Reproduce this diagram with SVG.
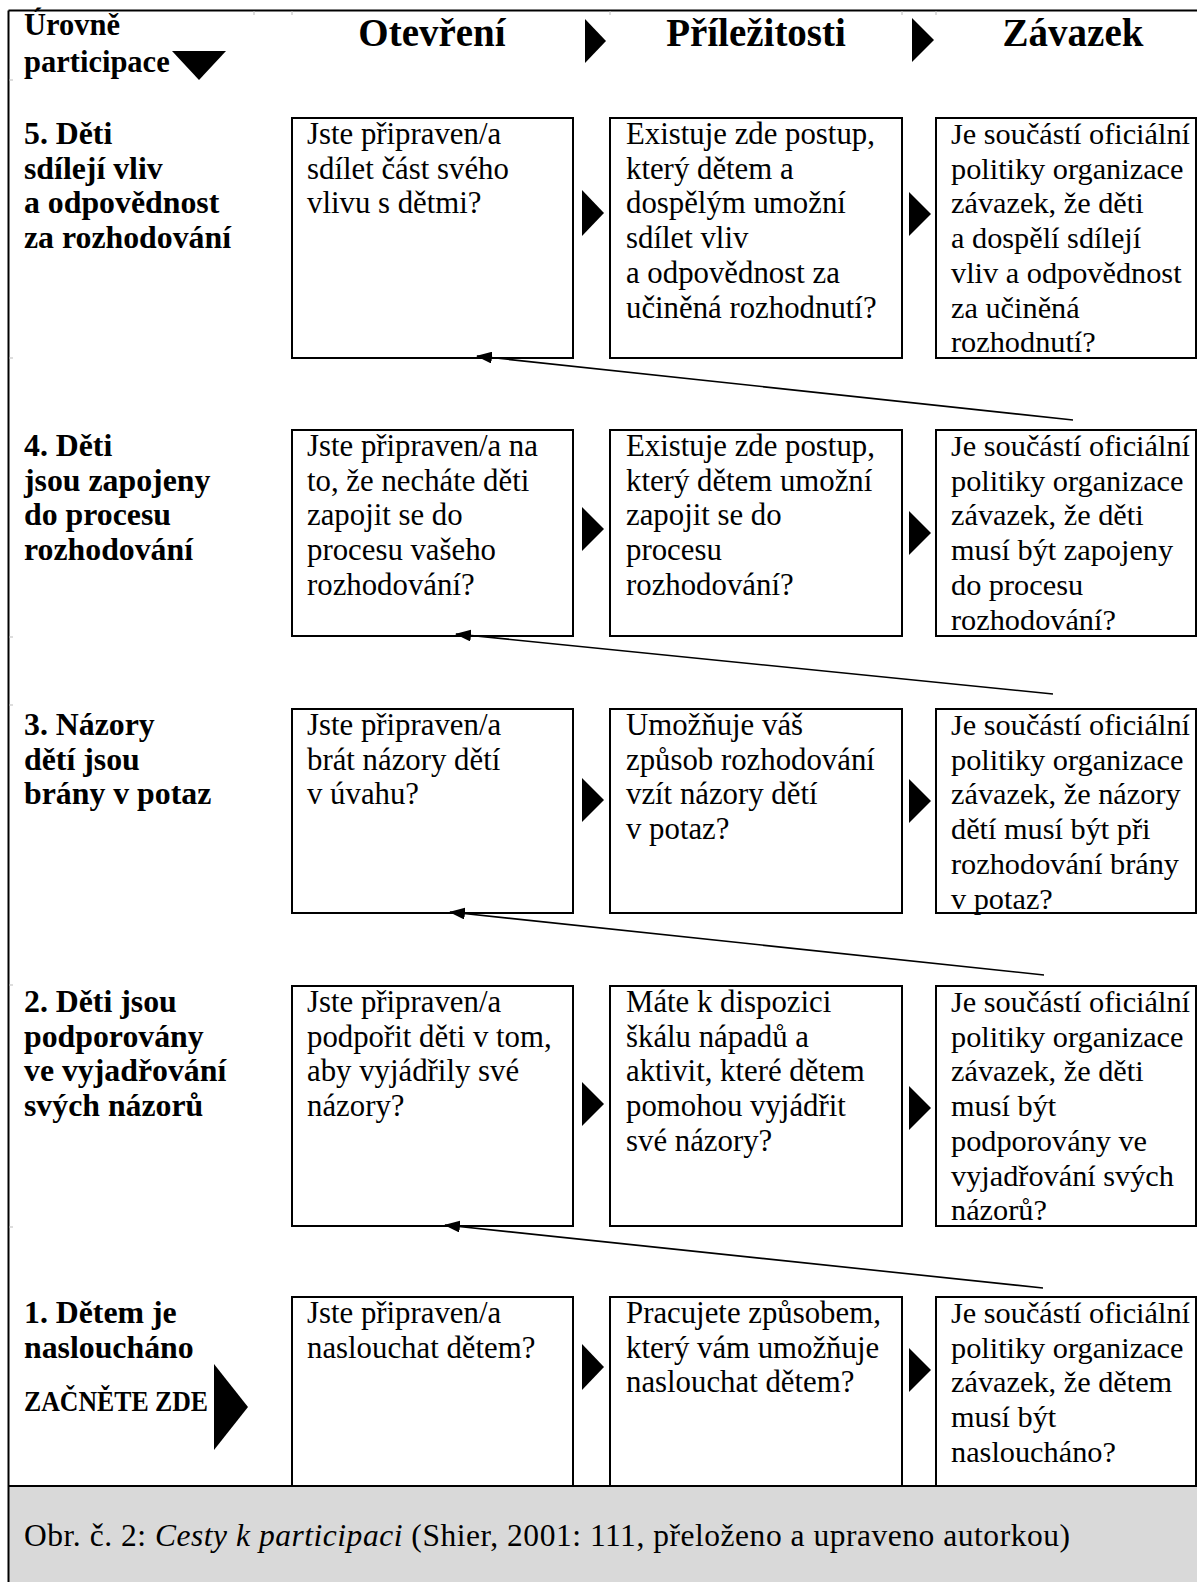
<svg xmlns="http://www.w3.org/2000/svg" width="1197" height="1582" viewBox="0 0 1197 1582">
<style>
.bx{fill:#fff;stroke:#000;stroke-width:2}
.t{font-family:"Liberation Serif","Times New Roman",serif;font-size:30.8px;fill:#000}
.c3{font-size:30.3px}
.lb{font-family:"Liberation Serif","Times New Roman",serif;font-size:31.8px;font-weight:bold;fill:#000}
.hl{font-family:"Liberation Serif","Times New Roman",serif;font-size:30.5px;font-weight:bold;fill:#000}
.h{font-family:"Liberation Serif","Times New Roman",serif;font-size:39px;font-weight:bold;fill:#000;text-anchor:middle}
.tri{fill:#000}
.tick{stroke:#bbb;stroke-width:1}
.con{stroke:#000;stroke-width:1.6;fill:none}
</style>
<defs>
<marker id="ah" markerUnits="userSpaceOnUse" markerWidth="16" markerHeight="12" refX="15" refY="6" orient="auto">
<path d="M0,0 L16,6 L0,12 Z" fill="#000"/>
</marker>
</defs>
<rect width="1197" height="1582" fill="#fff"/>
<g id="frame">
<rect x="8.5" y="1486" width="1189" height="96" fill="#d9d9d9"/>
<line x1="8.5" y1="10.5" x2="1197" y2="10.5" stroke="#000" stroke-width="2"/>
<line x1="8.5" y1="10.5" x2="8.5" y2="1582" stroke="#000" stroke-width="2"/>
<line class="tick" x1="254" y1="11" x2="254" y2="15"/>
<line class="tick" x1="292" y1="11" x2="292" y2="15"/>
<line class="tick" x1="610" y1="11" x2="610" y2="15"/>
<line class="tick" x1="902" y1="11" x2="902" y2="15"/>
<line class="tick" x1="936" y1="11" x2="936" y2="15"/>
<line class="tick" x1="9" y1="80" x2="13" y2="80"/>
<line class="tick" x1="9" y1="358" x2="13" y2="358"/>
<line class="tick" x1="9" y1="637" x2="13" y2="637"/>
<line class="tick" x1="9" y1="705" x2="13" y2="705"/>
<line class="tick" x1="9" y1="985" x2="13" y2="985"/>
<line class="tick" x1="9" y1="1227" x2="13" y2="1227"/>
</g>
<g id="header">
<text class="hl" x="24" y="35">Úrovně</text>
<text class="hl" x="24" y="72">participace</text>
<path class="tri" d="M172,51 L226,51 L199,80 Z"/>
<text class="h" x="432" y="46">Otevření</text>
<path class="tri" d="M585,19 L606,41 L585,63 Z"/>
<text class="h" x="756" y="46">Příležitosti</text>
<path class="tri" d="M912,18 L934,40 L912,62 Z"/>
<text class="h" x="1073" y="46">Závazek</text>
</g>

<g id="level5">
<text class="lb" x="24" y="144"><tspan x="24">5. Děti</tspan><tspan x="24" dy="34.7">sdílejí vliv</tspan><tspan x="24" dy="34.7">a odpovědnost</tspan><tspan x="24" dy="34.7">za rozhodování</tspan></text>
</g>
<g id="r5c1"><rect class="bx" x="292" y="118" width="281" height="240"/>
<text class="t" x="307" y="144"><tspan x="307">Jste připraven/a</tspan><tspan x="307" dy="34.7">sdílet část svého</tspan><tspan x="307" dy="34.7">vlivu s dětmi?</tspan></text></g>
<path class="tri" d="M582,190 L604,213 L582,236 Z"/>
<g id="r5c2"><rect class="bx" x="610" y="118" width="292" height="240"/>
<text class="t" x="626" y="144"><tspan x="626">Existuje zde postup,</tspan><tspan x="626" dy="34.7">který dětem a</tspan><tspan x="626" dy="34.7">dospělým umožní</tspan><tspan x="626" dy="34.7">sdílet vliv</tspan><tspan x="626" dy="34.7">a odpovědnost za</tspan><tspan x="626" dy="34.7">učiněná rozhodnutí?</tspan></text></g>
<path class="tri" d="M909,192 L931,214 L909,236 Z"/>
<g id="r5c3"><rect class="bx" x="936" y="118" width="260" height="240"/>
<text class="t c3" x="951" y="144"><tspan x="951">Je součástí oficiální</tspan><tspan x="951" dy="34.7">politiky organizace</tspan><tspan x="951" dy="34.7">závazek, že děti</tspan><tspan x="951" dy="34.7">a dospělí sdílejí</tspan><tspan x="951" dy="34.7">vliv a odpovědnost</tspan><tspan x="951" dy="34.7">za učiněná</tspan><tspan x="951" dy="34.7">rozhodnutí?</tspan></text></g>

<g id="level4">
<text class="lb" x="24" y="456"><tspan x="24">4. Děti</tspan><tspan x="24" dy="34.7">jsou zapojeny</tspan><tspan x="24" dy="34.7">do procesu</tspan><tspan x="24" dy="34.7">rozhodování</tspan></text>
</g>
<g id="r4c1"><rect class="bx" x="292" y="430" width="281" height="206"/>
<text class="t" x="307" y="456"><tspan x="307">Jste připraven/a na</tspan><tspan x="307" dy="34.7">to, že necháte děti</tspan><tspan x="307" dy="34.7">zapojit se do</tspan><tspan x="307" dy="34.7">procesu vašeho</tspan><tspan x="307" dy="34.7">rozhodování?</tspan></text></g>
<path class="tri" d="M582,507 L604,529 L582,551 Z"/>
<g id="r4c2"><rect class="bx" x="610" y="430" width="292" height="206"/>
<text class="t" x="626" y="456"><tspan x="626">Existuje zde postup,</tspan><tspan x="626" dy="34.7">který dětem umožní</tspan><tspan x="626" dy="34.7">zapojit se do</tspan><tspan x="626" dy="34.7">procesu</tspan><tspan x="626" dy="34.7">rozhodování?</tspan></text></g>
<path class="tri" d="M909,511 L931,533 L909,555 Z"/>
<g id="r4c3"><rect class="bx" x="936" y="430" width="260" height="206"/>
<text class="t c3" x="951" y="456"><tspan x="951">Je součástí oficiální</tspan><tspan x="951" dy="34.7">politiky organizace</tspan><tspan x="951" dy="34.7">závazek, že děti</tspan><tspan x="951" dy="34.7">musí být zapojeny</tspan><tspan x="951" dy="34.7">do procesu</tspan><tspan x="951" dy="34.7">rozhodování?</tspan></text></g>

<g id="level3">
<text class="lb" x="24" y="735"><tspan x="24">3. Názory</tspan><tspan x="24" dy="34.7">dětí jsou</tspan><tspan x="24" dy="34.7">brány v potaz</tspan></text>
</g>
<g id="r3c1"><rect class="bx" x="292" y="709" width="281" height="204"/>
<text class="t" x="307" y="735"><tspan x="307">Jste připraven/a</tspan><tspan x="307" dy="34.7">brát názory dětí</tspan><tspan x="307" dy="34.7">v úvahu?</tspan></text></g>
<path class="tri" d="M582,778 L604,800 L582,822 Z"/>
<g id="r3c2"><rect class="bx" x="610" y="709" width="292" height="204"/>
<text class="t" x="626" y="735"><tspan x="626">Umožňuje váš</tspan><tspan x="626" dy="34.7">způsob rozhodování</tspan><tspan x="626" dy="34.7">vzít názory dětí</tspan><tspan x="626" dy="34.7">v potaz?</tspan></text></g>
<path class="tri" d="M909,779 L931,801 L909,823 Z"/>
<g id="r3c3"><rect class="bx" x="936" y="709" width="260" height="204"/>
<text class="t c3" x="951" y="735"><tspan x="951">Je součástí oficiální</tspan><tspan x="951" dy="34.7">politiky organizace</tspan><tspan x="951" dy="34.7">závazek, že názory</tspan><tspan x="951" dy="34.7">dětí musí být při</tspan><tspan x="951" dy="34.7">rozhodování brány</tspan><tspan x="951" dy="34.7">v potaz?</tspan></text></g>

<g id="level2">
<text class="lb" x="24" y="1012"><tspan x="24">2. Děti jsou</tspan><tspan x="24" dy="34.7">podporovány</tspan><tspan x="24" dy="34.7">ve vyjadřování</tspan><tspan x="24" dy="34.7">svých názorů</tspan></text>
</g>
<g id="r2c1"><rect class="bx" x="292" y="986" width="281" height="240"/>
<text class="t" x="307" y="1012"><tspan x="307">Jste připraven/a</tspan><tspan x="307" dy="34.7">podpořit děti v tom,</tspan><tspan x="307" dy="34.7">aby vyjádřily své</tspan><tspan x="307" dy="34.7">názory?</tspan></text></g>
<path class="tri" d="M582,1082 L604,1104 L582,1126 Z"/>
<g id="r2c2"><rect class="bx" x="610" y="986" width="292" height="240"/>
<text class="t" x="626" y="1012"><tspan x="626">Máte k dispozici</tspan><tspan x="626" dy="34.7">škálu nápadů a</tspan><tspan x="626" dy="34.7">aktivit, které dětem</tspan><tspan x="626" dy="34.7">pomohou vyjádřit</tspan><tspan x="626" dy="34.7">své názory?</tspan></text></g>
<path class="tri" d="M909,1086 L931,1108 L909,1130 Z"/>
<g id="r2c3"><rect class="bx" x="936" y="986" width="260" height="240"/>
<text class="t c3" x="951" y="1012"><tspan x="951">Je součástí oficiální</tspan><tspan x="951" dy="34.7">politiky organizace</tspan><tspan x="951" dy="34.7">závazek, že děti</tspan><tspan x="951" dy="34.7">musí být</tspan><tspan x="951" dy="34.7">podporovány ve</tspan><tspan x="951" dy="34.7">vyjadřování svých</tspan><tspan x="951" dy="34.7">názorů?</tspan></text></g>

<g id="level1">
<text class="lb" x="24" y="1323"><tspan x="24">1. Dětem je</tspan><tspan x="24" dy="34.7">nasloucháno</tspan></text>
<text class="lb" x="24" y="1411" style="font-size:30px" textLength="184" lengthAdjust="spacingAndGlyphs">ZAČNĚTE ZDE</text>
<path class="tri" d="M214,1364 L248,1407 L214,1450 Z"/>
</g>
<g id="r1c1"><rect class="bx" x="292" y="1297" width="281" height="189"/>
<text class="t" x="307" y="1323"><tspan x="307">Jste připraven/a</tspan><tspan x="307" dy="34.7">naslouchat dětem?</tspan></text></g>
<path class="tri" d="M582,1344 L604,1367 L582,1390 Z"/>
<g id="r1c2"><rect class="bx" x="610" y="1297" width="292" height="189"/>
<text class="t" x="626" y="1323"><tspan x="626">Pracujete způsobem,</tspan><tspan x="626" dy="34.7">který vám umožňuje</tspan><tspan x="626" dy="34.7">naslouchat dětem?</tspan></text></g>
<path class="tri" d="M909,1348 L931,1370 L909,1392 Z"/>
<g id="r1c3"><rect class="bx" x="936" y="1297" width="260" height="189"/>
<text class="t c3" x="951" y="1323"><tspan x="951">Je součástí oficiální</tspan><tspan x="951" dy="34.7">politiky organizace</tspan><tspan x="951" dy="34.7">závazek, že dětem</tspan><tspan x="951" dy="34.7">musí být</tspan><tspan x="951" dy="34.7">nasloucháno?</tspan></text></g>

<g id="connectors">
<line class="con" x1="1073" y1="420" x2="477" y2="356" marker-end="url(#ah)"/>
<line class="con" x1="1053" y1="694" x2="456" y2="634" marker-end="url(#ah)"/>
<line class="con" x1="1044" y1="975" x2="450" y2="912" marker-end="url(#ah)"/>
<line class="con" x1="1043" y1="1288" x2="445" y2="1225" marker-end="url(#ah)"/>
</g>
<g id="caption">
<line x1="8.5" y1="1486" x2="1197" y2="1486" stroke="#000" stroke-width="2"/>
<text class="t" x="24" y="1546" style="font-size:31.5px" textLength="1046" lengthAdjust="spacing">Obr. č. 2: <tspan font-style="italic">Cesty k participaci</tspan> (Shier, 2001: 111, přeloženo a upraveno autorkou)</text>
</g>
</svg>
